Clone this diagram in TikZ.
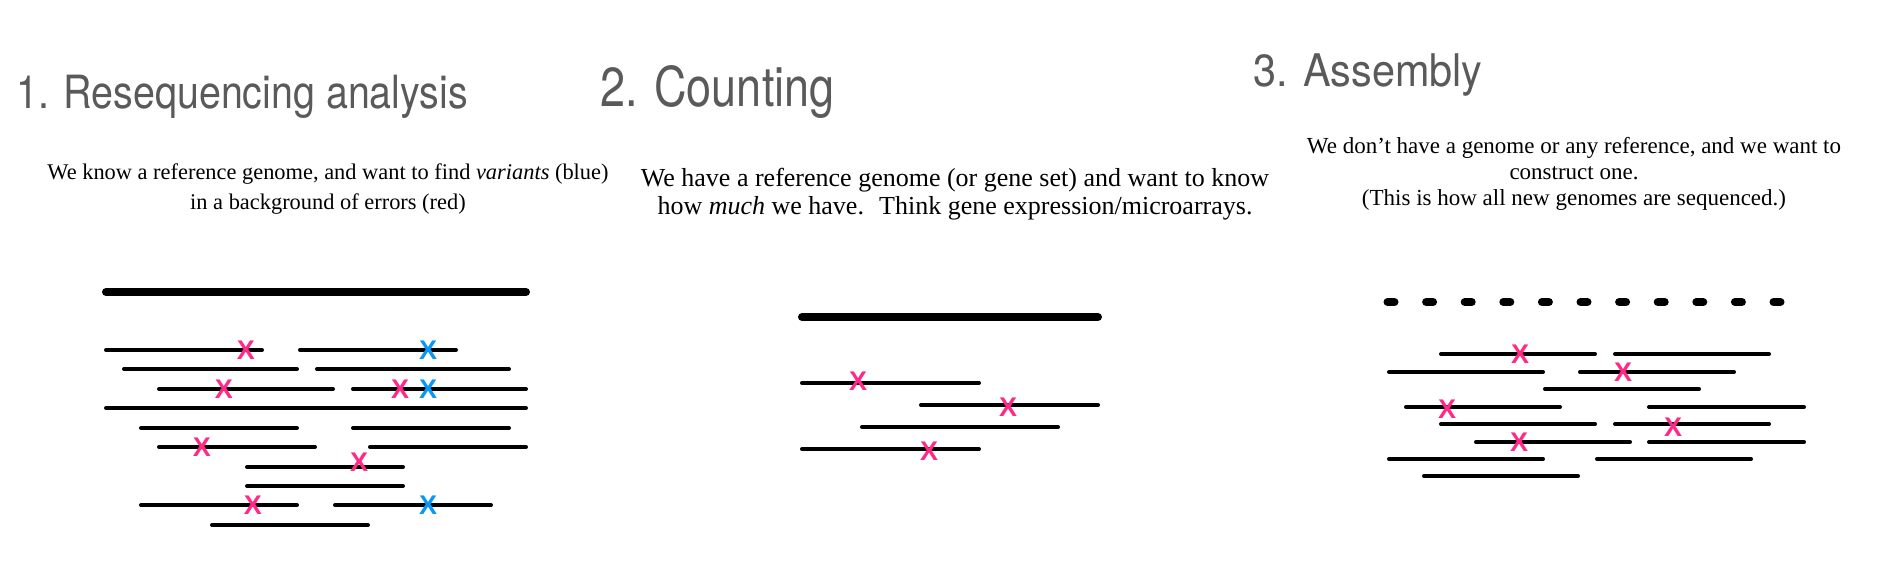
\documentclass[tikz,border=0pt]{standalone}
\usepackage{fontspec}
\setmainfont{Liberation Serif}
\newfontfamily\headfont[FakeStretch=0.86]{TeX Gyre Heros}
\newfontfamily\headfontb[FakeStretch=0.82]{TeX Gyre Heros}
\newfontfamily\headfontc[FakeStretch=0.92]{TeX Gyre Heros}
\newfontfamily\markfont{Liberation Sans}
\definecolor{headgray}{HTML}{5A5A5A}
\definecolor{errpink}{HTML}{FF2A88}
\definecolor{varblue}{HTML}{0A96F5}

\begin{document}
\begin{tikzpicture}[x=1pt, y=-1pt,
    refline/.style={line width=8pt, line cap=round},
    read/.style={line width=4pt, line cap=round},
    err/.style={inner sep=0pt, text=errpink, font=\markfont\bfseries\fontsize{27}{27}\selectfont},
    var/.style={err, text=varblue},
    head/.style={anchor=base west, inner sep=0pt, text=headgray},
    blurb/.style={anchor=north, inner sep=0pt, align=center}]
    \useasboundingbox (0,0) rectangle (1898,572);

    % Titles
    \node[head, font=\headfont\fontsize{45.8}{50}\selectfont] (t1) at (16,109) {1. Resequencing analysis};
    \node[head, font=\headfontb\fontsize{54.9}{60}\selectfont] (t2) at (600,106.5) {2. Counting};
    \node[head, font=\headfontc\fontsize{45}{50}\selectfont] (t3) at (1253,87) {3. Assembly};

    % Explanations
    \node[blurb, font=\fontsize{22.4}{30}\selectfont] (b1) at (328,164)
        {We know a reference genome, and want to find \textit{variants} (blue)\\in a background of errors (red)};
    \node[blurb, font=\fontsize{26}{28}\selectfont] (b2) at (955,168)
        {We have a reference genome (or gene set) and want to know\\how \textit{much} we have.~ Think gene expression/microarrays.};
    \node[blurb, font=\fontsize{23}{26}\selectfont] (b3) at (1574,137)
        {We don’t have a genome or any reference, and we want to\\construct one.\\(This is how all new genomes are sequenced.)};

    % Resequencing: reference and reads
    \draw[refline] (106,292) -- (526,292);
    \draw[read] (106,350) -- (262,350);
    \draw[read] (300,350) -- (456,350);
    \draw[read] (124,369) -- (297,369);
    \draw[read] (317,369) -- (509,369);
    \draw[read] (159,389) -- (333,389);
    \draw[read] (353,389) -- (526,389);
    \draw[read] (106,408) -- (526,408);
    \draw[read] (141,428) -- (297,428);
    \draw[read] (353,428) -- (509,428);
    \draw[read] (159,447) -- (315,447);
    \draw[read] (370,447) -- (526,447);
    \draw[read] (247,467) -- (403,467);
    \draw[read] (247,486) -- (403,486);
    \draw[read] (141,505) -- (297,505);
    \draw[read] (335,505) -- (491,505);
    \draw[read] (212,525) -- (368,525);
    \node[err] (e1) at (246,350) {X};
    \node[var] (v1) at (428,350) {X};
    \node[err] (e2) at (224,389) {X};
    \node[err] (e3) at (400,389) {X};
    \node[var] (v2) at (428,389) {X};
    \node[err] (e4) at (202,447) {X};
    \node[err] (e5) at (359,462) {X};
    \node[err] (e6) at (253,505) {X};
    \node[var] (v3) at (428,505) {X};

    % Counting: reference and reads
    \draw[refline] (802,317) -- (1098,317);
    \draw[read] (802,383) -- (979,383);
    \draw[read] (921,405) -- (1098,405);
    \draw[read] (862,427) -- (1058,427);
    \draw[read] (802,449) -- (979,449);
    \node[err] (c1) at (858,381) {X};
    \node[err] (c2) at (1008,407) {X};
    \node[err] (c3) at (929,451) {X};

    % Assembly: unknown genome and reads
    \draw[refline, dash pattern=on 7pt off 31.6pt] (1387.5,302) -- (1781,302);
    \draw[read] (1441,354) -- (1595,354);
    \draw[read] (1615,354) -- (1769,354);
    \draw[read] (1389,372) -- (1543,372);
    \draw[read] (1580,372) -- (1734,372);
    \draw[read] (1545,389) -- (1699,389);
    \draw[read] (1406,407) -- (1560,407);
    \draw[read] (1649,407) -- (1804,407);
    \draw[read] (1441,424) -- (1595,424);
    \draw[read] (1615,424) -- (1769,424);
    \draw[read] (1476,442) -- (1630,442);
    \draw[read] (1649,442) -- (1804,442);
    \draw[read] (1389,459) -- (1543,459);
    \draw[read] (1597,459) -- (1751,459);
    \draw[read] (1424,476) -- (1578,476);
    \node[err] (a1) at (1520,354) {X};
    \node[err] (a2) at (1623,372) {X};
    \node[err] (a3) at (1447,409) {X};
    \node[err] (a4) at (1673,427) {X};
    \node[err] (a5) at (1519,442) {X};
\end{tikzpicture}
\end{document}
